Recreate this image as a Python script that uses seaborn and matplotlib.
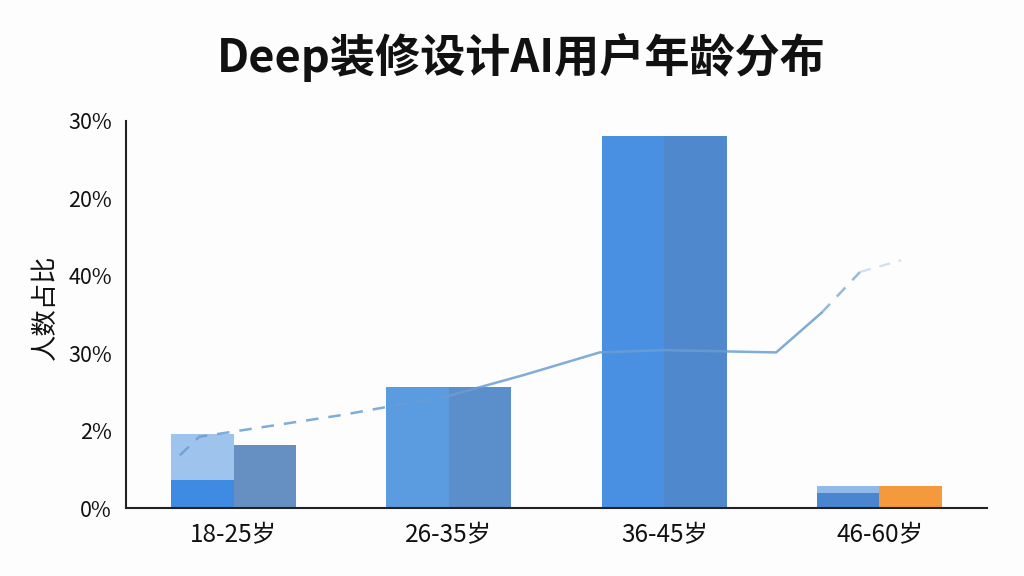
import matplotlib
matplotlib.use("Agg")
import matplotlib.pyplot as plt
import pandas as pd
import seaborn as sns

# data
ages = ["18-25岁", "26-35岁", "36-45岁", "46-60岁"]
left_total = [0.955, 1.56, 4.8, 0.28]
right_total = [0.81, 1.56, 4.8, 0.28]
left_base = [0.36, 0.0, 0.0, 0.2]
left_colors = ["#9EC4EE", "#5B9BE0", "#4A90E2", "#8FBAEA"]
right_colors = ["#6690C2", "#5A8FCB", "#4F88CC", "#F59A3C"]
base_colors = ["#3F8AE2", "#5B9BE0", "#4A90E2", "#4A86CF"]

ytick_labels = ["0%", "2%", "30%", "40%", "20%", "30%"]

line_dash1_x = [-0.25, -0.16, 0.5, 1.0]
line_dash1_y = [0.68, 0.92, 1.2, 1.45]
line_solid_x = [1.0, 1.35, 1.7, 2.0, 2.52, 2.73]
line_solid_y = [1.45, 1.72, 2.01, 2.04, 2.01, 2.52]
line_dash2_x = [2.73, 2.91]
line_dash2_y = [2.52, 3.05]
line_faint_x = [2.91, 3.1]
line_faint_y = [3.05, 3.2]

sns.set_style("white")
plt.rcParams["font.family"] = ["Noto Sans CJK SC", "DejaVu Sans"]

df = pd.DataFrame({
    "age": ages * 2,
    "side": ["L"] * 4 + ["R"] * 4,
    "value": left_total + right_total,
})
df_base = pd.DataFrame({
    "age": ages * 2,
    "side": ["L"] * 4 + ["R"] * 4,
    "value": left_base + [0.0] * 4,
})

fig = plt.figure(figsize=(10.24, 5.76), dpi=100, facecolor="#FDFDFD")
ax = fig.add_axes([0.123, 0.118, 0.841, 0.672])
ax.set_facecolor("#FDFDFD")

sns.barplot(data=df, x="age", y="value", hue="side", width=0.58,
            dodge=True, legend=False, ax=ax, saturation=1)
bars = list(ax.patches)
for p, c in zip(bars, left_colors + right_colors):
    p.set_facecolor(c)
    p.set_edgecolor("none")

sns.barplot(data=df_base, x="age", y="value", hue="side", width=0.58,
            dodge=True, legend=False, ax=ax, saturation=1)
for p, c in zip(ax.patches[len(bars):], base_colors + right_colors):
    p.set_facecolor(c)
    p.set_edgecolor("none")

line_c = "#6A9ED2"
sns.lineplot(x=line_dash1_x, y=line_dash1_y, sort=False, ax=ax, color=line_c,
             lw=1.8, linestyle=(0, (5, 4)), alpha=0.85, zorder=5)
sns.lineplot(x=line_solid_x, y=line_solid_y, sort=False, ax=ax, color=line_c,
             lw=1.8, alpha=0.85, zorder=5)
sns.lineplot(x=line_dash2_x, y=line_dash2_y, sort=False, ax=ax, color=line_c,
             lw=1.8, linestyle=(0, (5, 4)), alpha=0.7, zorder=5)
sns.lineplot(x=line_faint_x, y=line_faint_y, sort=False, ax=ax, color="#C8D8EA",
             lw=1.6, linestyle=(0, (5, 4)), alpha=0.8, zorder=5)

ax.set_xlim(-0.5, 3.5)
ax.set_ylim(0, 5)
ax.set_yticks(range(len(ytick_labels)))
ax.set_yticklabels(ytick_labels, fontsize=15.5, fontweight="medium")
ax.set_xticks(range(len(ages)))
ax.set_xticklabels(ages, fontsize=17.5, fontweight="medium")
ax.set_xticks([0.5, 1.5, 2.5], minor=True)
ax.tick_params(axis="both", which="major", direction="out", length=6, width=1.3,
               color="#222222", labelcolor="#111111", pad=4)
ax.tick_params(axis="x", which="minor", direction="out", length=6, width=1.3,
               color="#222222")
ax.set_xlabel("")
ax.set_ylabel("人数占比", fontsize=19, color="#111111")
ax.yaxis.set_label_coords(-0.078, 0.52)

sns.despine(ax=ax)
for s in ["left", "bottom"]:
    ax.spines[s].set_linewidth(1.5)
    ax.spines[s].set_color("#222222")

fig.text(0.509, 0.9, "Deep装修设计AI用户年龄分布", ha="center", va="center",
         fontsize=32.5, fontweight="bold", color="#111111")

fig.savefig("out.png", dpi=100, facecolor=fig.get_facecolor())
